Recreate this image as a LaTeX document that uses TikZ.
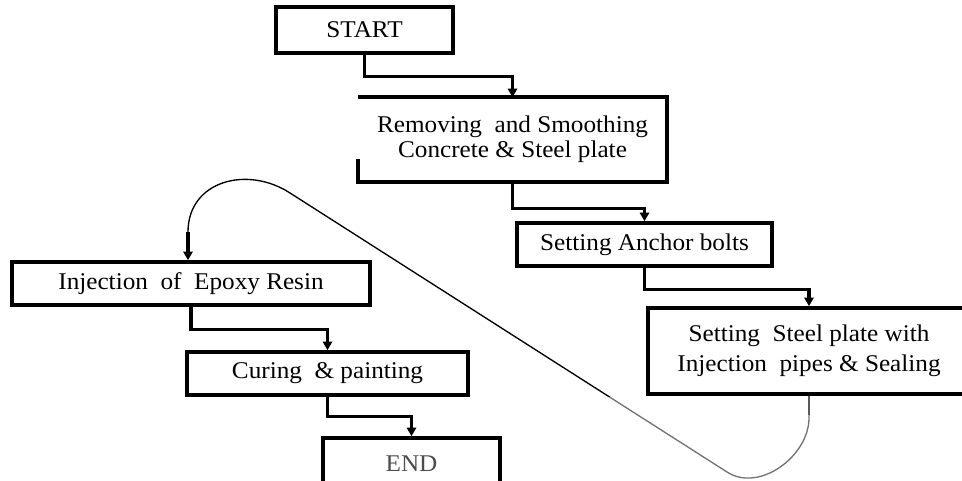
\documentclass[tikz,border=0pt]{standalone}
\usepackage{fontspec}
\usepackage{graphicx}
\setmainfont{Liberation Serif}
\usetikzlibrary{arrows.meta}
% slightly widened lettering
\newcommand{\sx}[1]{\scalebox{1.05}[1]{#1}}
\begin{document}
\begin{tikzpicture}[x=0.75pt,y=0.75pt,
  flowbox/.style={draw, line width=2.7pt, inner sep=2pt, align=center,
    font=\fontsize{18}{18.5}\selectfont},
  boxline/.style={line width=2.7pt, line join=miter},
  conn/.style={line width=2.5pt, -{Triangle[width=7pt,length=6.5pt]}},
  ret/.style={line width=1pt}]
\useasboundingbox (0,0) rectangle (962,481);
\clip (0,0) rectangle (962,481);

% process steps
\node[flowbox, minimum width=132.75pt, minimum height=34.5pt] (start) at (364.5,451) {\sx{START}};
\node[flowbox, draw=none, minimum width=228.75pt, minimum height=60.75pt] (remove) at (512.5,341.5)
  {\sx{Removing~ and Smoothing}\\\sx{Concrete \& Steel plate}};
\draw[boxline] ([yshift=17.25pt]remove.south west) -- (remove.south west) -- (remove.south east)
  -- (remove.north east) -- (remove.north west);
\node[flowbox, minimum width=191.25pt, minimum height=32.25pt] (anchor) at (644.5,236.5) {\sx{Setting Anchor bolts}};
\node[flowbox, font=\fontsize{18}{22.5}\selectfont, minimum width=241.5pt, minimum height=64.5pt] (plate) at (809,130)
  {\sx{Setting~ Steel plate with}\\\sx{Injection~ pipes \& Sealing}};
\node[flowbox, minimum width=268.5pt, minimum height=32.25pt] (epoxy) at (191,197.5) {\sx{Injection~ of~ Epoxy Resin}};
\node[flowbox, minimum width=210.75pt, minimum height=32.25pt] (curing) at (327.5,107.5) {\sx{Curing~ \& painting}};
\node[flowbox, text=black!70, minimum width=132.75pt, minimum height=39pt] (finish) at (411.5,17) {\sx{END}};

% forward connectors
\draw[conn] (start.south) -- ++(0,-22) -| (remove.north);
\draw[conn] (remove.south) -- ++(0,-27) -| (anchor.north);
\draw[conn] (anchor.south) -- ++(0,-22) -| (plate.north);
\draw[conn] (epoxy.south) -- ++(0,-23) -| (curing.north);
\draw[conn] (curing.south) -- ++(0,-20) -| (finish.north);

% return loop from the plate step back to the epoxy injection
\coordinate (r1) at (727,9);
\coordinate (r2) at (290,288);
\coordinate (r3) at (188,249);
\begin{scope}
  \clip (0,481) -- (962,481) -- (962,66) -- (780,66) -- (780,84) -- (0,84) -- cycle;
  \draw[ret] (plate.south) -- ++(0,-22) to[out=-90,in=-33] (r1) -- (r2)
    to[out=147,in=90,looseness=1.2] (r3);
\end{scope}
\begin{scope}
  \clip (0,0) -- (962,0) -- (962,66) -- (780,66) -- (780,84) -- (0,84) -- cycle;
  \draw[ret, black!55] (plate.south) -- ++(0,-22) to[out=-90,in=-33] (r1) -- (r2)
    to[out=147,in=90,looseness=1.2] (r3);
\end{scope}
\draw[conn] (r3) -- (r3 |- epoxy.north);
\end{tikzpicture}
\end{document}
